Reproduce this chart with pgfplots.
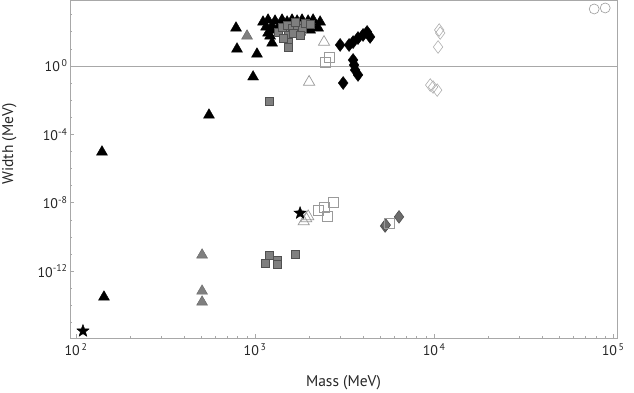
\documentclass[border=0pt]{standalone}
\usepackage{pgfplots}
\pgfplotsset{compat=1.18}
\usepackage{fontspec}
\setmainfont{PT Sans}
\usetikzlibrary{plotmarks}
\definecolor{axgray}{HTML}{A8A8A8}
\definecolor{mgray}{HTML}{7F7F7F}
\definecolor{dgray}{HTML}{505050}
\definecolor{ogray}{HTML}{9A9A9A}
\pgfdeclareplotmark{fstar}{%
 \pgfpathmoveto{\pgfpointpolar{90}{\pgfplotmarksize}}%
 \pgfpathlineto{\pgfpointpolar{126}{0.42\pgfplotmarksize}}%
 \pgfpathlineto{\pgfpointpolar{162}{\pgfplotmarksize}}%
 \pgfpathlineto{\pgfpointpolar{198}{0.42\pgfplotmarksize}}%
 \pgfpathlineto{\pgfpointpolar{234}{\pgfplotmarksize}}%
 \pgfpathlineto{\pgfpointpolar{270}{0.42\pgfplotmarksize}}%
 \pgfpathlineto{\pgfpointpolar{306}{\pgfplotmarksize}}%
 \pgfpathlineto{\pgfpointpolar{342}{0.42\pgfplotmarksize}}%
 \pgfpathlineto{\pgfpointpolar{18}{\pgfplotmarksize}}%
 \pgfpathlineto{\pgfpointpolar{54}{0.42\pgfplotmarksize}}%
 \pgfpathclose
 \pgfusepathqfillstroke}
\begin{document}
\begin{tikzpicture}
\useasboundingbox (-70pt,-54pt) rectangle (564pt,338pt);
\begin{axis}[
  at={(0pt,0pt)}, anchor=south west,
  scale only axis, width=547pt, height=338pt,
  xmode=log, ymode=log,
  xmin=92.6, xmax=1.05e5, ymin=1.24e-16, ymax=7.2e3,
  axis line style={color=axgray, line width=0.7pt},
  tick pos=left, tick align=inside,
  major tick length=4pt, minor tick length=2.5pt,
  tick style={color=axgray, line width=0.6pt},
  xtick={1e2,1e3,1e4,1e5},
  xticklabels={10\textsuperscript{\,2},10\textsuperscript{\,3},10\textsuperscript{\,4},10\textsuperscript{\,5}},
  minor xtick={200,300,400,500,600,700,800,900,2000,3000,4000,5000,6000,7000,8000,9000,20000,30000,40000,50000,60000,70000,80000,90000},
  ytick={1e-12,1e-8,1e-4,1},
  yticklabels={10\textsuperscript{-12},10\textsuperscript{-8},10\textsuperscript{-4},10\textsuperscript{\,0}},
  minor ytick={1e-16,1e-15,1e-14,1e-13,1e-11,1e-10,1e-9,1e-7,1e-6,1e-5,1e-3,1e-2,1e-1,10,100,1000},
  ticklabel style={font=\fontsize{14}{16}\selectfont, color=black!85},
  xticklabel style={yshift=-2pt},
  yticklabel style={xshift=1pt},
  xlabel={Mass (MeV)}, ylabel={Width (MeV)},
  label style={font=\fontsize{15.5}{18}\selectfont, color=black!85},
  xlabel style={at={(axis description cs:0.5,-0.133)}, anchor=center},
  ylabel style={at={(axis description cs:-0.111,0.574)}, anchor=center},
  clip=false,
]
\addplot[color=axgray, line width=0.7pt, no marks] coordinates {(92.6,1) (1.05e5,1)};
% black triangles
\addplot[only marks, mark=triangle*, mark size=6.3pt, mark options={fill=black, draw=black}] coordinates {
(139.7,9.4e-6) (143.3,3.1e-14) (553,1.36e-3) (975,0.23) (783,167) (793,9.9) (1025,5.0)
(1108,374) (1182,490) (1293,428) (1415,490) (1510,374) (1609,490) (1717,428) (1830,490) (1978,428) (2109,490) (2308,374)
(1152,191) (1245,218) (1345,167) (1471,191) (1902,191) (2082,218) (2249,167)
(1182,85) (1228,127) (1784,97) (2029,127) (1245,22) (1213,57)
};
% gray triangles
\addplot[only marks, mark=triangle*, mark size=6.3pt, mark options={fill=mgray, draw=mgray!80!black}] coordinates {
(902,57) (506,8.9e-12) (506,6.9e-14) (506,1.58e-14)
};
% gray squares
\addplot[only marks, mark=square*, mark size=4.2pt, mark options={fill=mgray, draw=dgray, line width=0.5pt}] coordinates {
(1197,8.98e-3) (1137,3.0e-12) (1197,8.9e-12) (1327,4.5e-12) (1327,2.6e-12) (1673,1.02e-11)
(1345,97) (1415,191) (1510,250) (1609,167) (1717,250) (1830,167) (1902,327) (1529,65) (1529,25) (1529,12) (1630,85) (1784,65) (1434,43) (1673,374) (2029,286)
};
% black diamonds
\addplot[only marks, mark=diamond*, mark size=6.5pt, mark options={fill=black, draw=black}] coordinates {
(2985,16.9) (3350,16.9) (3527,25) (3758,43) (4010,65) (4224,97) (4388,50)
(3527,2.24) (3573,1.14) (3620,0.58) (3758,0.30) (3104,0.101)
};
% open triangles
\addplot[only marks, mark=triangle, mark size=6.5pt, mark options={draw=ogray, line width=0.7pt}] coordinates {
(2427,25) (2003,0.116) (1870,8e-10) (1930,1.2e-9) (1980,1.6e-9)
};
% gray diamonds
\addplot[only marks, mark=diamond*, mark size=6.3pt, mark options={fill=mgray!85!black, draw=dgray, line width=0.6pt}] coordinates {
(5320,4.4e-10) (5370,5.0e-10) (6368,1.5e-9)
};
% open squares
\addplot[only marks, mark=square, mark size=5pt, mark options={draw=ogray, line width=0.6pt}] coordinates {
(2461,1.71) (2588,3.36) (2249,3.8e-9) (2427,5.7e-9) (2522,1.7e-9) (2730,1.1e-8) (5610,6.6e-10)
};
% open diamonds
\addplot[only marks, mark=diamond, mark size=6.3pt, mark options={draw=ogray!80, line width=0.6pt}] coordinates {
(10670,127) (10810,85) (10520,12.9) (9510,0.077) (9865,0.059) (10400,0.039)
};
% open circles
\addplot[only marks, mark=o, mark size=5pt, mark options={draw=ogray, line width=0.6pt}] coordinates {
(78300,2155) (90200,2465)
};
% stars
\addplot[only marks, mark=fstar, mark size=6.5pt, mark options={fill=black, draw=black}] coordinates {
(109.4,3.2e-16) (1784,2.5e-9)
};
\end{axis}
\end{tikzpicture}
\end{document}
